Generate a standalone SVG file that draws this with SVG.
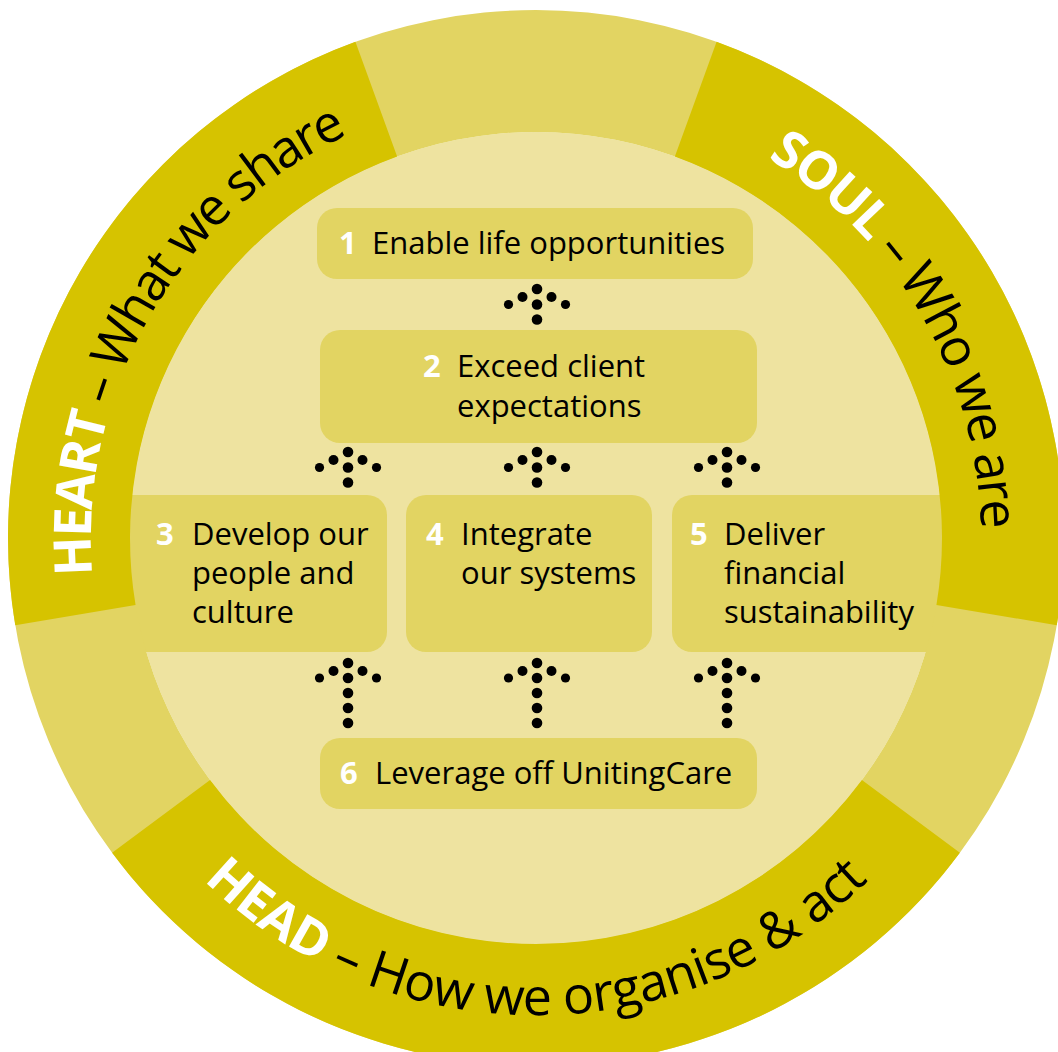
<svg xmlns="http://www.w3.org/2000/svg" xmlns:xlink="http://www.w3.org/1999/xlink" width="1058" height="1052" viewBox="0 0 1058 1052">
  <style>
    .inner { fill: #EEE3A0; }
    .ring-mid { fill: #E2D462; }
    .ring-dark { fill: #D6C300; }
    .box { fill: #E2D462; }
    .lbl { font-family: "Open Sans", "Liberation Sans", sans-serif; font-size: 31px; fill: #000000; }
    .num { font-weight: 700; fill: #FFFFFF; }
    .ring-text { font-family: "Open Sans", "Liberation Sans", sans-serif; font-size: 52px; fill: #000000; letter-spacing: -2px; }
    .ring-text.wide { letter-spacing: -0.5px; }
    .ring-key { font-weight: 700; fill: #FFFFFF; }
    .dot { fill: #000000; }
  </style>
  <defs>
    <!-- short dotted up-arrow: head of five dots plus one shaft dot -->
    <g id="arrow-short">
      <circle class="dot" cx="0" cy="0" r="5.3"/>
      <circle class="dot" cx="-14.5" cy="8" r="5"/>
      <circle class="dot" cx="14.5" cy="8" r="5"/>
      <circle class="dot" cx="-28.5" cy="15.5" r="4.6"/>
      <circle class="dot" cx="0" cy="15.5" r="5.3"/>
      <circle class="dot" cx="28.5" cy="15.5" r="4.6"/>
      <circle class="dot" cx="0" cy="30.5" r="5.3"/>
    </g>
    <!-- long dotted up-arrow: same head with a three-dot shaft -->
    <g id="arrow-long">
      <circle class="dot" cx="0" cy="0" r="5.3"/>
      <circle class="dot" cx="-14.5" cy="8" r="5"/>
      <circle class="dot" cx="14.5" cy="8" r="5"/>
      <circle class="dot" cx="-28.5" cy="15" r="4.6"/>
      <circle class="dot" cx="0" cy="15" r="5.3"/>
      <circle class="dot" cx="28.5" cy="15" r="4.6"/>
      <circle class="dot" cx="0" cy="30" r="5.3"/>
      <circle class="dot" cx="0" cy="45" r="5.3"/>
      <circle class="dot" cx="0" cy="60" r="5.3"/>
    </g>
    <!-- baselines for the ring captions -->
    <path id="heart-path" d="M 250.0 878.9 A 445 445 0 0 1 688.2 119.8"/>
    <path id="soul-path" d="M 383.8 119.8 A 445 445 0 0 1 822.0 878.9"/>
    <path id="head-path" d="M 66.2 620.8 A 477 477 0 0 0 1005.8 620.8"/>
  </defs>

  <rect width="1058" height="1052" fill="#FFFFFF"/>

  <!-- inner disc -->
  <circle class="inner" cx="536" cy="538" r="406"/>

  <!-- objective boxes -->
  <g id="node-1">
    <rect class="box" x="317" y="208" width="436" height="71" rx="20"/>
    <text class="lbl" y="254"><tspan class="num" x="339">1</tspan><tspan x="372">Enable life opportunities</tspan></text>
  </g>
  <g id="node-2">
    <rect class="box" x="320" y="330" width="437" height="113" rx="20"/>
    <text class="lbl" y="377"><tspan class="num" x="423">2</tspan><tspan x="457">Exceed client</tspan><tspan x="457" y="417">expectations</tspan></text>
  </g>
  <g id="node-3">
    <rect class="box" x="100" y="495" width="287" height="157" rx="20"/>
    <text class="lbl" y="545"><tspan class="num" x="156">3</tspan><tspan x="192">Develop our</tspan><tspan x="192" y="584">people and</tspan><tspan x="192" y="623">culture</tspan></text>
  </g>
  <g id="node-4">
    <rect class="box" x="406" y="495" width="246" height="157" rx="20"/>
    <text class="lbl" y="545"><tspan class="num" x="426">4</tspan><tspan x="461">Integrate</tspan><tspan x="461" y="584">our systems</tspan></text>
  </g>
  <g id="node-5">
    <rect class="box" x="672" y="495" width="290" height="157" rx="20"/>
    <text class="lbl" y="545"><tspan class="num" x="690">5</tspan><tspan x="724">Deliver</tspan><tspan x="724" y="584">financial</tspan><tspan x="724" y="623">sustainability</tspan></text>
  </g>
  <g id="node-6">
    <rect class="box" x="320" y="738" width="437" height="71" rx="20"/>
    <text class="lbl" y="784"><tspan class="num" x="340">6</tspan><tspan x="375">Leverage off UnitingCare</tspan></text>
  </g>

  <!-- outer ring: light band with three dark sectors -->
  <g id="ring">
    <path class="ring-mid" fill-rule="evenodd" d="M 8 538 A 528 528 0 1 1 1064 538 A 528 528 0 1 1 8 538 Z M 130 538 A 406 406 0 1 0 942 538 A 406 406 0 1 0 130 538 Z"/>
    <path id="sector-soul" class="ring-dark" d="M 716.59 41.84 A 528 528 0 0 1 1056.76 625.15 L 936.43 605.01 A 406 406 0 0 0 674.86 156.49 Z"/>
    <path id="sector-head" class="ring-dark" d="M 959.89 852.80 A 528 528 0 0 1 112.11 852.80 L 210.06 780.07 A 406 406 0 0 0 861.94 780.07 Z"/>
    <path id="sector-heart" class="ring-dark" d="M 15.24 625.15 A 528 528 0 0 1 355.41 41.84 L 397.14 156.49 A 406 406 0 0 0 135.57 605.01 Z"/>
  </g>

  <!-- ring captions -->
  <g id="ring-captions">
    <text class="ring-text"><textPath href="#heart-path" xlink:href="#heart-path" startOffset="50%" text-anchor="middle"><tspan class="ring-key">HEART</tspan> – What we share</textPath></text>
    <text class="ring-text"><textPath href="#soul-path" xlink:href="#soul-path" startOffset="50%" text-anchor="middle"><tspan class="ring-key">SOUL</tspan> – Who we are</textPath></text>
    <text class="ring-text wide"><textPath href="#head-path" xlink:href="#head-path" startOffset="50%" text-anchor="middle"><tspan class="ring-key">HEAD</tspan> – How we organise &amp; act</textPath></text>
  </g>

  <!-- dotted arrows between objectives -->
  <g id="connectors">
    <use href="#arrow-short" xlink:href="#arrow-short" x="537" y="289"/>
    <use href="#arrow-short" xlink:href="#arrow-short" x="348" y="452"/>
    <use href="#arrow-short" xlink:href="#arrow-short" x="537" y="452"/>
    <use href="#arrow-short" xlink:href="#arrow-short" x="727" y="452"/>
    <use href="#arrow-long" xlink:href="#arrow-long" x="348" y="663"/>
    <use href="#arrow-long" xlink:href="#arrow-long" x="537" y="663"/>
    <use href="#arrow-long" xlink:href="#arrow-long" x="727" y="663"/>
  </g>
</svg>
